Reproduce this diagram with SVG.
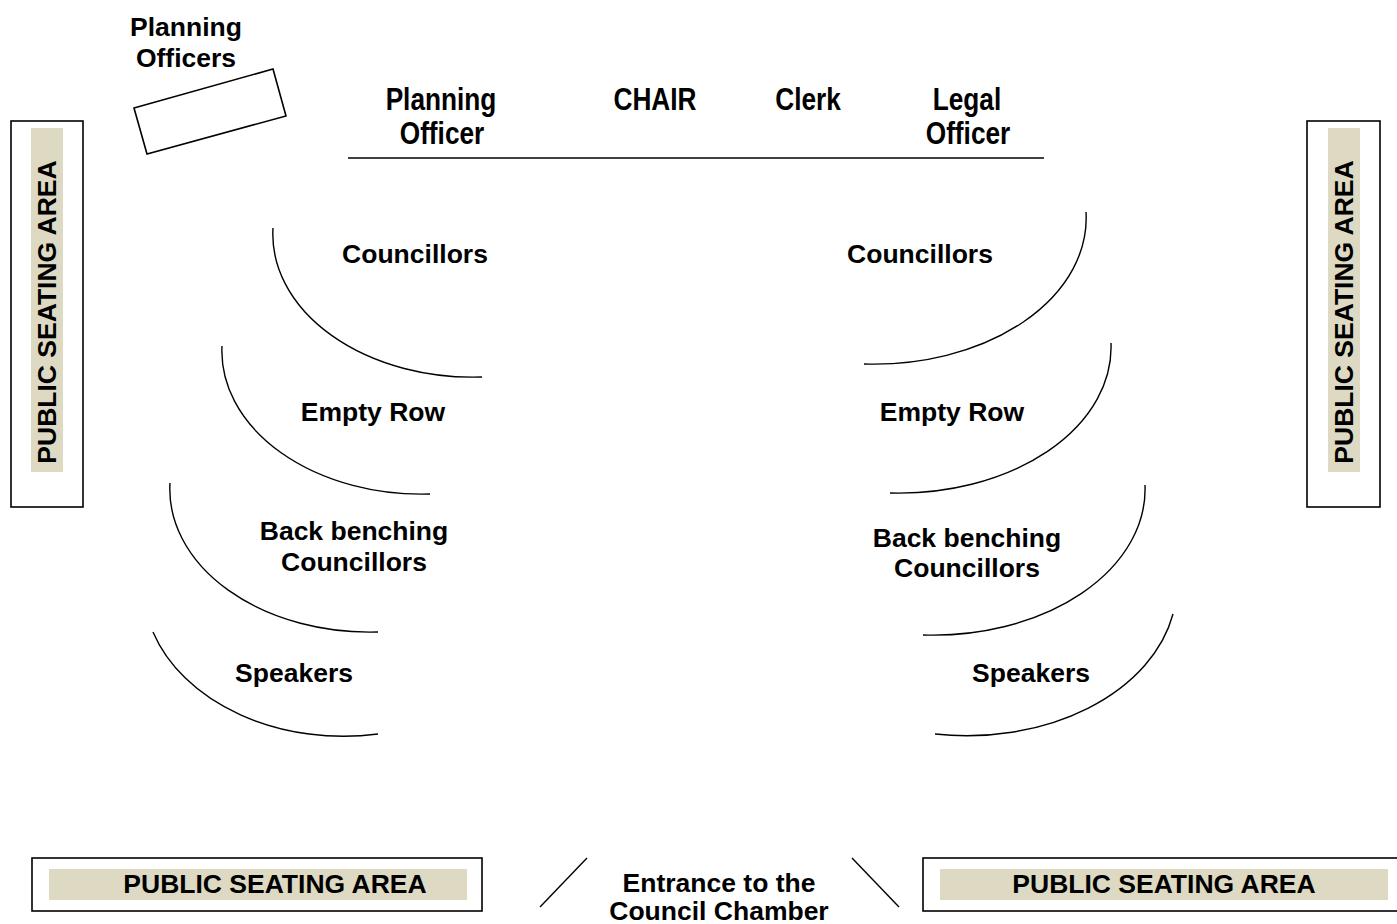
<svg xmlns="http://www.w3.org/2000/svg" width="1397" height="924" viewBox="0 0 1397 924">
<style>
.t{font-family:"Liberation Sans",Arial,Helvetica,sans-serif;font-weight:bold;font-size:26.5px;fill:#000;text-anchor:middle}
.n{font-family:"Liberation Sans",Arial,Helvetica,sans-serif;font-weight:bold;font-size:32px;fill:#000;text-anchor:middle}
.box{fill:#fff;stroke:#000;stroke-width:1.6}
.band{fill:#DDD9C3;stroke:none}
.arc{fill:none;stroke:#000;stroke-width:1.4}
.ln{fill:none;stroke:#000;stroke-width:1.4}
</style>
<rect width="1397" height="924" fill="#fff"/>

<g id="public-left">
<rect class="box" x="11" y="121" width="72" height="386"/>
<rect class="band" x="31" y="128" width="32" height="344"/>
<text class="t" transform="translate(56,312) rotate(-90)">PUBLIC SEATING AREA</text>
</g>
<g id="public-right">
<rect class="box" x="1307" y="121" width="73" height="386"/>
<rect class="band" x="1328" y="128" width="32" height="344"/>
<text class="t" transform="translate(1353,312) rotate(-90)">PUBLIC SEATING AREA</text>
</g>
<g id="public-bottom-left">
<rect class="box" x="32" y="858" width="450" height="53"/>
<rect class="band" x="49" y="869" width="418" height="31"/>
<text class="t" x="275" y="893">PUBLIC SEATING AREA</text>
</g>
<g id="public-bottom-right">
<rect class="box" x="923" y="858" width="480" height="53"/>
<rect class="band" x="940" y="869" width="448" height="31"/>
<text class="t" x="1164" y="893">PUBLIC SEATING AREA</text>
</g>

<g id="planning-officers">
<polygon class="box" points="134,108 273,69 286,116 147,154"/>
<text class="t" x="186" y="36">Planning</text>
<text class="t" x="186" y="67">Officers</text>
</g>

<g id="top-table">
<line class="ln" x1="348" y1="158" x2="1044" y2="158"/>
<text class="n" transform="translate(441,110) scale(0.82,1)">Planning</text>
<text class="n" transform="translate(442,144) scale(0.82,1)">Officer</text>
<text class="n" transform="translate(655,110) scale(0.82,1)">CHAIR</text>
<text class="n" transform="translate(808,110) scale(0.82,1)">Clerk</text>
<text class="n" transform="translate(967,110) scale(0.82,1)">Legal</text>
<text class="n" transform="translate(968,144) scale(0.82,1)">Officer</text>
</g>

<g id="connectors">
<path class="arc" d="M273,228 A200,143 0 0 0 482,377"/>
<path class="arc" d="M222,346 A200,143 0 0 0 430,494"/>
<path class="arc" d="M170,483 A200,143 0 0 0 378,632"/>
<path class="arc" d="M153,632 A200,150 0 0 0 378,734"/>
<path class="arc" d="M1086,212 A212,146 0 0 1 864,364"/>
<path class="arc" d="M1111,343 A212,146 0 0 1 890,493"/>
<path class="arc" d="M1145,485 A212,146 0 0 1 923,635"/>
<path class="arc" d="M1173,614 A210,150 0 0 1 935,734"/>
<line class="ln" x1="540" y1="907" x2="587" y2="858"/>
<line class="ln" x1="852" y1="858" x2="899" y2="907"/>
</g>

<g id="councillors-left"><text class="t" x="415" y="263">Councillors</text></g>
<g id="councillors-right"><text class="t" x="920" y="263">Councillors</text></g>
<g id="empty-left"><text class="t" x="373" y="421">Empty Row</text></g>
<g id="empty-right"><text class="t" x="952" y="421">Empty Row</text></g>
<g id="back-left"><text class="t" x="354" y="540">Back benching</text><text class="t" x="354" y="571">Councillors</text></g>
<g id="back-right"><text class="t" x="967" y="547">Back benching</text><text class="t" x="967" y="577">Councillors</text></g>
<g id="speakers-left"><text class="t" x="294" y="682">Speakers</text></g>
<g id="speakers-right"><text class="t" x="1031" y="682">Speakers</text></g>
<g id="entrance"><text class="t" x="719" y="892">Entrance to the</text><text class="t" x="719" y="920">Council Chamber</text></g>
</svg>
